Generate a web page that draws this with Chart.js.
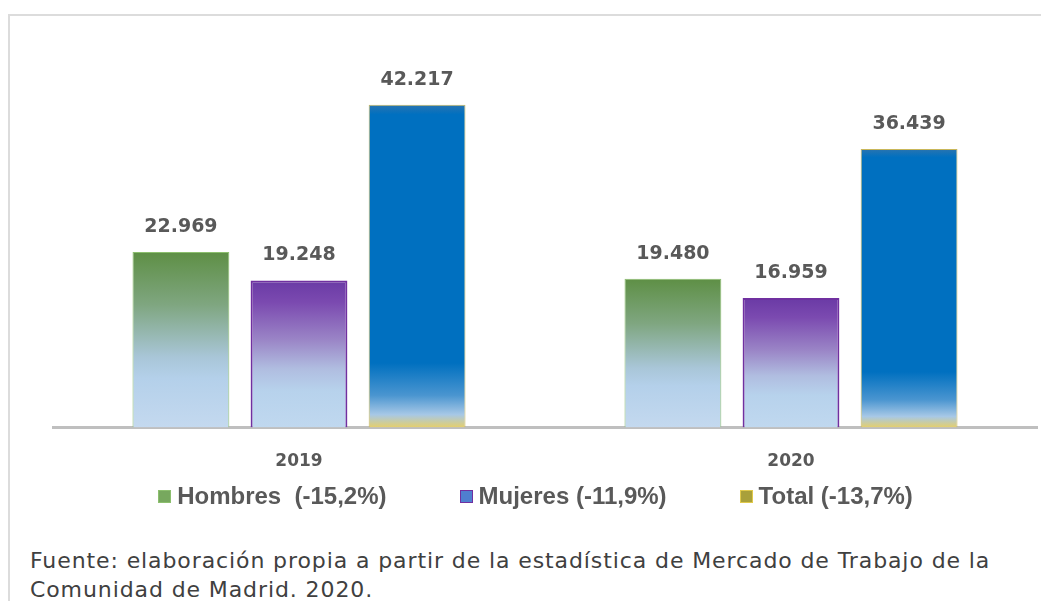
<!DOCTYPE html>
<html>
<head>
<meta charset="utf-8">
<script src="https://cdn.jsdelivr.net/npm/chart.js@4.4.1/dist/chart.umd.min.js"></script>
<style>
  body { margin: 0; background: #fff; width: 1041px; height: 601px; overflow: hidden; position: relative; }
  #frame { position: absolute; left: 8px; top: 14px; width: 1100px; height: 700px; border-left: 2px solid #dcdcdc; border-top: 2px solid #dcdcdc; }
  #wrap { position: absolute; left: 0; top: 0; width: 1041px; height: 504px; }
  #legend { position: absolute; left: 30px; width: 1011px; top: 481px; height: 30px; display: flex; justify-content: center; align-items: center; gap: 73px;
            font-family: "Liberation Sans", Arial, sans-serif; font-weight: bold; font-size: 24px; color: #595959; }
  #legend span.item { display: flex; align-items: center; white-space: pre; }
  #legend span.box { display: inline-block; width: 11px; height: 11px; margin-right: 6px; border: 1.5px solid; }
  #note { position: absolute; left: 30px; top: 546px; font-family: "DejaVu Sans", sans-serif; font-size: 22px; letter-spacing: 0.9px; line-height: 29px; color: #404040; white-space: nowrap; }
</style>
</head>
<body>
<div id="frame"></div>
<div id="wrap"><canvas id="myChart" width="1041" height="504"></canvas></div>
<div id="legend"></div>
<div id="note">Fuente: elaboración propia a partir de la estadística de Mercado de Trabajo de la<br>Comunidad de Madrid. 2020.</div>
<script>
// Data
let years = ['2019', '2020'];
let hombres = [22969, 19480];
let mujeres = [19248, 16959];
let total = [42217, 36439];
let seriesLabels = ['Hombres  (-15,2%)', 'Mujeres (-11,9%)', 'Total (-13,7%)'];

// gradient stops for each series (top -> bottom of the bar)
let stops = [
    [[0, '#5e8f45'], [0.3, '#7fa680'], [0.6, '#a9c6d8'], [0.72, '#b4d0ea'], [1, '#c4d9ef']],
    [[0, '#6a3aa5'], [0.15, '#7b4ab0'], [0.4, '#9a84c6'], [0.6, '#b0bde0'], [0.75, '#b7d2ec'], [1, '#c0d8ef']],
    [[0, '#2a74b0'], [0.03, '#0070c0'], [0.8, '#0070c0'], [0.9, '#4a95d0'], [0.96, '#a7c8e6'], [1, '#e6cf6a']]
];

function barGradient(context) {
    let chart = context.chart;
    let y = chart.scales.y;
    let fallback = stops[context.datasetIndex][0][1];
    if (!y || context.raw === undefined) return fallback;
    let top = y.getPixelForValue(context.raw);
    let bottom = y.getPixelForValue(0);
    if (!isFinite(top) || !isFinite(bottom) || top === bottom) return fallback;
    let g = chart.ctx.createLinearGradient(0, top, 0, bottom);
    stops[context.datasetIndex].forEach(s => g.addColorStop(s[0], s[1]));
    return g;
}

let legendFill = ['#77a85e', '#4f7fd0', '#a9a03a'];
let legendStroke = ['#8cbf6e', '#7030a0', '#e0c94a'];

// value labels above the bars
let valueLabels = {
    id: 'valueLabels',
    afterDatasetsDraw(chart) {
        let ctx = chart.ctx;
        ctx.save();
        ctx.font = 'bold 19px "DejaVu Sans", sans-serif';
        ctx.fillStyle = '#595959';
        ctx.textAlign = 'center';
        ctx.textBaseline = 'middle';
        chart.data.datasets.forEach((ds, i) => {
            chart.getDatasetMeta(i).data.forEach((bar, j) => {
                ctx.fillText(ds.data[j].toLocaleString('de-DE'), bar.x, bar.y - 25);
            });
        });
        ctx.restore();
    }
};

let canvas = document.getElementById('myChart').getContext('2d');
let chart = new Chart(canvas, {
    type: 'bar',
    data: {
        labels: years,
        datasets: [
            { label: seriesLabels[0], data: hombres, backgroundColor: barGradient, borderColor: '#8cbf6e', borderWidth: 1 },
            { label: seriesLabels[1], data: mujeres, backgroundColor: barGradient, borderColor: '#7030a0', borderWidth: 2 },
            { label: seriesLabels[2], data: total, backgroundColor: barGradient, borderColor: '#c9b75a', borderWidth: 1 }
        ]
    },
    options: {
        responsive: false,
        animation: false,
        layout: { padding: { left: 53, right: 4, top: 30, bottom: 16 } },
        datasets: { bar: { categoryPercentage: 0.72, barPercentage: 0.82 } },
        plugins: {
            tooltip: { enabled: false },
            legend: { display: false }
        },
        scales: {
            x: {
                grid: { display: false },
                border: { color: '#bfbfbf', width: 3 },
                ticks: {
                    color: '#595959',
                    padding: 16,
                    font: { family: '"DejaVu Sans", sans-serif', size: 17, weight: 'bold' }
                }
            },
            y: {
                display: false,
                min: 0,
                max: 52000
            }
        }
    },
    plugins: [valueLabels]
});

// legend built from the chart's datasets
let legendEl = document.getElementById('legend');
chart.data.datasets.forEach((ds, i) => {
    let item = document.createElement('span');
    item.className = 'item';
    let box = document.createElement('span');
    box.className = 'box';
    box.style.background = legendFill[i];
    box.style.borderColor = legendStroke[i];
    item.appendChild(box);
    item.appendChild(document.createTextNode(ds.label));
    legendEl.appendChild(item);
});
</script>
</body>
</html>
